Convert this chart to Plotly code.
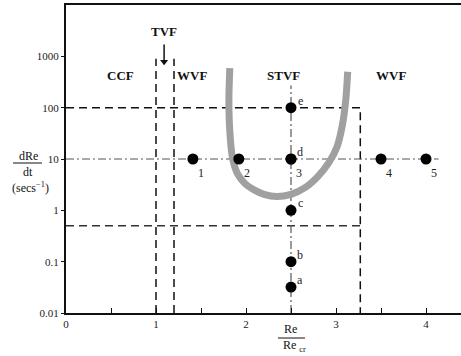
import numpy as np
import plotly.graph_objects as go

# ---- data ----
region_labels = ["CCF", "WVF", "STVF", "WVF"]
region_x = [0.6, 1.4, 2.42, 3.61]
region_y = [415, 415, 415, 415]

num_labels = ["1", "2", "3", "4", "5"]
num_x = [1.41, 1.92, 2.5, 3.5, 4.0]
num_y = [10, 10, 10, 10, 10]

let_labels = ["a", "b", "c", "d", "e"]
let_x = [2.5, 2.5, 2.5, 2.5, 2.5]
let_y = [0.032, 0.1, 1, 10, 100]

curve_x = [1.82, 1.81, 1.82, 1.85, 1.91, 1.99, 2.09, 2.2, 2.34, 2.5, 2.66, 2.8, 2.92, 3.01, 3.07, 3.11, 3.13]
curve_y = [590, 150, 35, 10.5, 5.0, 3.3, 2.5, 2.05, 1.85, 2.05, 2.8, 4.6, 8.5, 17, 45, 150, 500]

tvf_x = [1.0, 1.2]
tvf_y = [0.01, 900]
rect_x = [0, 3.27]
rect_y = [0.5, 100]
dd_h_x = [0, 4.14]
dd_h_y = 10
dd_v_x = 2.5
dd_v_y = [0.01, 270]
arrow_x = 1.09
arrow_y = [1700, 780]

x_ticks = [0, 1, 2, 3, 4]
y_ticks = [0.01, 0.1, 1, 10, 100, 1000]
y_ticktext = ["0.01", "0.1", "1", "10", "100", "1000"]

SERIF = "Liberation Serif"
fig = go.Figure()

dash_c = "#111111"
dd_c = "#555555"
# TVF boundaries
for xv in tvf_x:
    fig.add_trace(go.Scatter(x=[xv, xv], y=tvf_y, mode="lines",
                             line=dict(color=dash_c, width=1.5, dash="8px,5px"), hoverinfo="skip"))
# dashed rectangle
fig.add_trace(go.Scatter(x=[rect_x[0], rect_x[1], rect_x[1]],
                         y=[rect_y[1], rect_y[1], 0.01], mode="lines",
                         line=dict(color=dash_c, width=1.5, dash="8px,5px"), hoverinfo="skip"))
fig.add_trace(go.Scatter(x=rect_x, y=[rect_y[0], rect_y[0]], mode="lines",
                         line=dict(color="#333333", width=1.5, dash="8px,5px"), hoverinfo="skip"))
# dash-dot lines
fig.add_trace(go.Scatter(x=dd_h_x, y=[dd_h_y, dd_h_y], mode="lines",
                         line=dict(color=dd_c, width=1.2, dash="8px,3px,2px,3px"), hoverinfo="skip"))
fig.add_trace(go.Scatter(x=[dd_v_x, dd_v_x], y=dd_v_y, mode="lines",
                         line=dict(color=dd_c, width=1.2, dash="8px,3px,2px,3px"), hoverinfo="skip"))
# U curve
fig.add_trace(go.Scatter(x=curve_x, y=curve_y, mode="lines",
                         line=dict(color="#a0a0a0", width=7, shape="spline", smoothing=0.6),
                         hoverinfo="skip"))
# points
fig.add_trace(go.Scatter(x=num_x + let_x, y=num_y + let_y, mode="markers",
                         marker=dict(color="black", size=11), hoverinfo="skip"))
# TVF arrow
fig.add_trace(go.Scatter(x=[arrow_x, arrow_x], y=arrow_y, mode="lines",
                         line=dict(color="#111", width=1.5), hoverinfo="skip"))
fig.add_trace(go.Scatter(x=[arrow_x], y=[arrow_y[1]], mode="markers",
                         marker=dict(symbol="triangle-down", color="#111", size=7), hoverinfo="skip"))

anns = []
for t, xv, yv in zip(num_labels, num_x, num_y):
    anns.append(dict(x=xv, y=np.log10(yv), text=t, showarrow=False, xshift=8, yshift=-14,
                     font=dict(family=SERIF, size=12, color="#222")))
for t, xv, yv in zip(let_labels, let_x, let_y):
    anns.append(dict(x=xv, y=np.log10(yv), text=t, showarrow=False, xshift=9, yshift=7,
                     font=dict(family=SERIF, size=12, color="#222")))
for t, xv, yv in zip(region_labels, region_x, region_y):
    anns.append(dict(x=xv, y=np.log10(yv), text="<b>" + t + "</b>", showarrow=False,
                     font=dict(family=SERIF, size=13, color="#111")))
anns.append(dict(x=arrow_x, y=np.log10(3000), text="<b>TVF</b>", showarrow=False,
                 font=dict(family=SERIF, size=13, color="#111")))

# axis titles (paper coords)
def px2paper(px, py):
    return (px - 66) / 395.0, (313 - py) / 308.0

for txt, (px, py) in [("dRe", (28, 156)), ("dt", (28, 172)), ("(secs<sup>−1</sup>)", (30, 188)),
                      ("Re", (290, 329)), ("Re <sub>cr</sub>", (294, 346))]:
    xp, yp = px2paper(px, py)
    anns.append(dict(xref="paper", yref="paper", x=xp, y=yp, text=txt, showarrow=False,
                     xanchor="center", yanchor="middle",
                     font=dict(family=SERIF, size=12, color="#111")))

shapes = []
for (x0, x1, y) in [(13, 42, 163), (278, 305, 338)]:
    a0, b = px2paper(x0, y)
    a1, _ = px2paper(x1, y)
    shapes.append(dict(type="line", xref="paper", yref="paper", x0=a0, x1=a1, y0=b, y1=b,
                       line=dict(color="#111", width=1)))

fig.update_layout(
    width=461, height=356,
    margin=dict(l=66, r=0, t=5, b=43),
    paper_bgcolor="white", plot_bgcolor="white",
    showlegend=False,
    annotations=anns, shapes=shapes,
    xaxis=dict(range=[0, 395 / 90.0], tickvals=x_ticks,
               ticks="inside", ticklen=5, tickcolor="#111", showgrid=False, zeroline=False,
               showline=True, linecolor="#111", linewidth=2, mirror=True,
               minor=dict(dtick=0.5, tick0=0, ticks="inside", ticklen=5, tickcolor="#111",
                          showgrid=False),
               tickfont=dict(family=SERIF, size=11, color="#222")),
    yaxis=dict(type="log", range=[-2, 4], tickvals=y_ticks, ticktext=y_ticktext,
               ticks="outside", ticklen=3, tickcolor="#111", showgrid=False, zeroline=False,
               showline=True, linecolor="#111", linewidth=2,
               tickfont=dict(family=SERIF, size=11, color="#222")),
)

fig.write_html("out.html")
